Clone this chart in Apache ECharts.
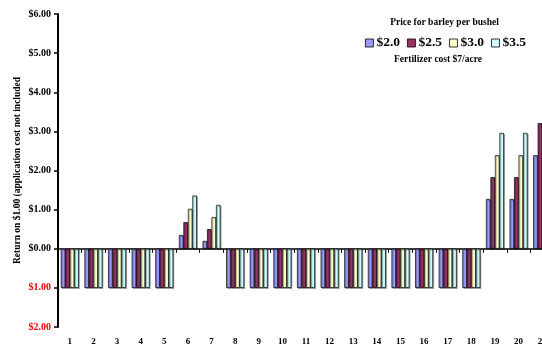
<!DOCTYPE html>
<html>
<head>
<meta charset="utf-8">
<script src="https://cdn.jsdelivr.net/npm/echarts@6/dist/echarts.min.js"></script>
<style>html,body{margin:0;padding:0;background:#fff;}#c{width:542px;height:349px;}</style>
</head>
<body>
<div id="c"></div>
<script>
const categories = ['1','2','3','4','5','6','7','8','9','10','11','12','13','14','15','16','17','18','19','20','21'];
const seriesNames = ['$2.0', '$2.5', '$3.0', '$3.5'];
const price20 = [-1,-1,-1,-1,-1,0.35,0.20,-1,-1,-1,-1,-1,-1,-1,-1,-1,-1,-1,1.27,1.27,2.39];
const price25 = [-1,-1,-1,-1,-1,0.68,0.50,-1,-1,-1,-1,-1,-1,-1,-1,-1,-1,-1,1.83,1.83,3.21];
const price30 = [-1,-1,-1,-1,-1,1.02,0.81,-1,-1,-1,-1,-1,-1,-1,-1,-1,-1,-1,2.39,2.39,4.03];
const price35 = [-1,-1,-1,-1,-1,1.36,1.12,-1,-1,-1,-1,-1,-1,-1,-1,-1,-1,-1,2.96,2.96,4.85];
const yTicks = { min: -2, max: 6, interval: 1 };
const legendTitle = 'Price for barley per bushel';
const subNote = 'Fertilizer cost $7/acre';
const yName = 'Return on $1.00 (application cost not included';

const colors = ['#9999FF', '#993366', '#FFFFCC', '#CCFFFF'];
const values = [price20, price25, price30, price35];
const font = 'Liberation Serif';

const chart = echarts.init(document.getElementById('c'), null, {renderer: 'canvas'});
chart.setOption({
  animation: false,
  backgroundColor: '#fff',
  textStyle: { fontFamily: font },
  graphic: [
    { type: 'text', x: 444.5, y: 22.7, style: { text: legendTitle, align: 'center', verticalAlign: 'middle',
      font: 'bold 9.5px "Liberation Serif"', fill: '#000' } },
    { type: 'text', x: 438, y: 60, style: { text: subNote, align: 'center', verticalAlign: 'middle',
      font: 'bold 9.5px "Liberation Serif"', fill: '#000' } }
  ],
  legend: {
    data: seriesNames,
    left: 365, top: 36, padding: 0,
    icon: 'rect',
    itemWidth: 8, itemHeight: 8, itemGap: 7,
    itemStyle: { borderColor: '#000', borderWidth: 0.8, shadowBlur: 0, shadowOffsetX: 0, shadowOffsetY: 0, shadowColor: 'transparent' },
    textStyle: { fontFamily: font, fontWeight: 'bold', fontSize: 13.5, color: '#000', padding: [0,0,0,-2] }
  },
  grid: { left: 58, top: 14, width: 496, bottom: 22, containLabel: false, outerBoundsMode: 'none' },
  xAxis: [
    { type: 'category', data: categories,
      axisLine: { onZero: true, lineStyle: { color: '#000', width: 1.5 } },
      axisTick: { show: true, interval: 0, length: 4, lineStyle: { color: '#000', width: 1 } },
      axisLabel: { show: false }, splitLine: { show: false } },
    { type: 'category', data: categories, position: 'bottom',
      axisLine: { show: false, onZero: false }, axisTick: { show: false },
      axisLabel: { show: true, interval: 0, margin: 10, fontFamily: font, fontWeight: 'bold', fontSize: 9, color: '#000' },
      splitLine: { show: false } }
  ],
  yAxis: {
    type: 'value', min: yTicks.min, max: yTicks.max, interval: yTicks.interval,
    name: yName, nameLocation: 'middle', nameGap: 35, nameRotate: 90, nameMoveOverlap: false,
    nameTextStyle: { fontFamily: font, fontWeight: 'bold', fontSize: 9.5, color: '#000' },
    axisLine: { show: true, lineStyle: { color: '#000', width: 2 } },
    axisTick: { show: true, length: 4, lineStyle: { color: '#000', width: 1.5 } },
    splitLine: { show: false },
    axisLabel: { margin: 7, fontFamily: font, fontWeight: 'bold', fontSize: 10,
      formatter: v => '$' + Math.abs(v).toFixed(2),
      color: v => (Number(v) < 0 ? '#FF0000' : '#000') }
  },
  series: seriesNames.map((n, i) => ({
    name: n, type: 'bar', xAxisIndex: 0, data: values[i],
    barGap: '0%', barCategoryGap: '24%',
    itemStyle: { color: colors[i], borderColor: '#000', borderWidth: 0.7,
      shadowColor: 'rgba(0,0,0,0.35)', shadowOffsetX: 1, shadowOffsetY: 1, shadowBlur: 0 }
  }))
});
</script>
</body>
</html>
